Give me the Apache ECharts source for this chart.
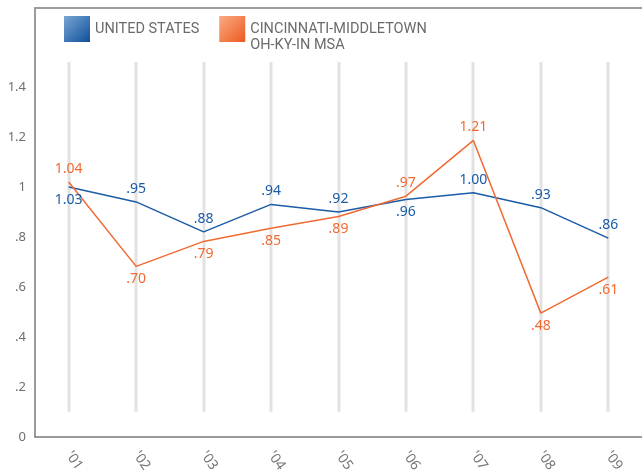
<!DOCTYPE html>
<html>
<head>
<meta charset="utf-8">
<script src="https://cdn.jsdelivr.net/npm/echarts@6/dist/echarts.min.js"></script>
<style>
  html, body { margin: 0; padding: 0; background: #fff; }
  #chart { width: 642px; height: 475px; }
</style>
</head>
<body>
<div id="chart"></div>
<script>
// data
const years = ["'01", "'02", "'03", "'04", "'05", "'06", "'07", "'08", "'09"];
const usName = 'UNITED STATES';
const cinName = 'CINCINNATI-MIDDLETOWN\nOH-KY-IN MSA';
const usValues = [1.00, 0.94, 0.82, 0.93, 0.90, 0.95, 0.977, 0.917, 0.795];
const cinValues = [1.02, 0.682, 0.782, 0.835, 0.882, 0.963, 1.186, 0.495, 0.639];
const usLabels = ['1.03', '.95', '.88', '.94', '.92', '.96', '1.00', '.93', '.86'];
const cinLabels = ['1.04', '.70', '.79', '.85', '.89', '.97', '1.21', '.48', '.61'];
const yTicks = [0, 0.2, 0.4, 0.6, 0.8, 1, 1.2, 1.4];
const guideFrom = 0.1;
const guideTo = 1.5;

// where each value label sits
const usPos = ['bottom', 'top', 'top', 'top', 'top', 'bottom', 'top', 'top', 'top'];
const cinPos = ['top', 'bottom', 'bottom', 'bottom', 'bottom', 'top', 'top', 'bottom', 'bottom'];

const BLUE = '#1b5ca6';
const ORANGE = '#f26a33';
const FONT = '"Noto Sans", "Open Sans", sans-serif';
const LEGEND_FONT = 'Roboto, sans-serif';

const chart = echarts.init(document.getElementById('chart'), null, { renderer: 'canvas' });

function yFmt(v) {
    if (!yTicks.some(t => Math.abs(t - v) < 1e-6)) return '';
    const s = String(+v.toFixed(1));
    return s.startsWith('0.') ? s.slice(1) : s;
}

function pts(values, labels, pos, color) {
    return values.map((v, i) => ({
        value: v,
        label: {
            formatter: labels[i],
            position: pos[i],
            distance: 6,
            color: color
        }
    }));
}

chart.setOption({
    animation: false,
    legend: {
        left: 64, top: 5, padding: 0,
        itemWidth: 26, itemHeight: 26, itemGap: 20,
        icon: 'rect',
        textStyle: { color: '#6b6b6b', fontSize: 14.5, fontFamily: LEGEND_FONT, lineHeight: 16 },
        // push the two-line name down so its first line sits beside the swatch
        formatter: name => name === cinName ? '\n' + name : name,
        data: [
            {
                name: usName,
                itemStyle: {
                    color: new echarts.graphic.LinearGradient(0, 0, 1, 1, [
                        { offset: 0, color: '#7aa6d6' }, { offset: 1, color: '#0d4f99' }
                    ])
                }
            },
            {
                name: cinName,
                itemStyle: {
                    color: new echarts.graphic.LinearGradient(0, 0, 1, 1, [
                        { offset: 0, color: '#f9ab84' }, { offset: 1, color: '#ee5a1f' }
                    ])
                }
            }
        ]
    },
    grid: { left: 35, top: 8, width: 611, bottom: 38 },
    xAxis: [
        {
            type: 'category', data: years, boundaryGap: true,
            axisLine: { lineStyle: { color: '#7a7a7a', width: 1.5 } },
            axisTick: { show: false },
            axisLabel: { color: '#777', fontSize: 14, fontFamily: FONT, rotate: -55, margin: 16 }
        },
        {
            type: 'category', data: years, position: 'top',
            axisLine: { lineStyle: { color: '#9c9c9c', width: 2 } },
            axisTick: { show: false }, axisLabel: { show: false }
        }
    ],
    yAxis: {
        type: 'value', min: 0, max: 1.716, interval: 0.2,
        axisLine: { show: true, lineStyle: { color: '#7a7a7a', width: 1.5 } },
        axisTick: { show: false },
        splitLine: { show: false },
        axisLabel: { color: '#6e6e6e', fontSize: 13, fontFamily: FONT, margin: 9, formatter: yFmt }
    },
    series: [
        {
            type: 'custom',
            silent: true,
            z: 1,
            renderItem: function (params, api) {
                const top = api.coord([api.value(0), api.value(2)]);
                const bot = api.coord([api.value(0), api.value(1)]);
                return {
                    type: 'rect',
                    shape: { x: Math.round(top[0]) - 1.5, y: top[1], width: 3, height: bot[1] - top[1] },
                    style: { fill: '#e2e2e2' }
                };
            },
            data: years.map((y, i) => [i, guideFrom, guideTo])
        },
        {
            type: 'line', name: usName,
            data: pts(usValues, usLabels, usPos, BLUE),
            symbol: 'circle', symbolSize: 0,
            lineStyle: { color: BLUE, width: 1.5 },
            itemStyle: { color: BLUE },
            label: { show: true, fontSize: 14, fontFamily: FONT },
            z: 3
        },
        {
            type: 'line', name: cinName,
            data: pts(cinValues, cinLabels, cinPos, ORANGE),
            symbol: 'circle', symbolSize: 0,
            lineStyle: { color: ORANGE, width: 1.5 },
            itemStyle: { color: ORANGE },
            label: { show: true, fontSize: 14, fontFamily: FONT },
            z: 3
        }
    ]
});
</script>
</body>
</html>
